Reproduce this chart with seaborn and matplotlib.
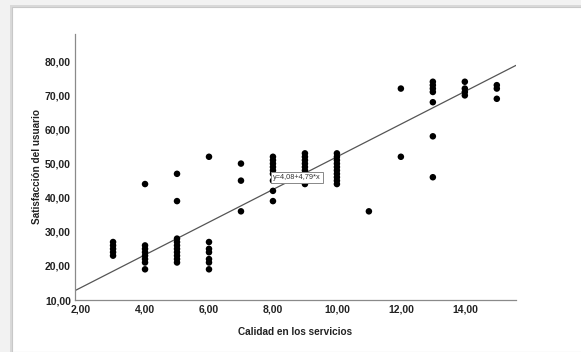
import numpy as np
import pandas as pd
import matplotlib
matplotlib.use("Agg")
import matplotlib.pyplot as plt
from matplotlib.patches import Rectangle
import seaborn as sns

# Data
x_groups = [3, 4, 5, 6, 7, 8, 9, 10, 11, 12, 13, 14, 15]
y_x3 = [23, 24, 25, 26, 27]
y_x4 = [44, 26, 25, 24, 23, 22, 21, 19]
y_x5 = [47, 39, 28, 27, 26, 25, 24, 23, 22, 21]
y_x6 = [52, 27, 25, 24, 22, 21, 19]
y_x7 = [50, 45, 36]
y_x8 = [52, 51, 50, 49, 48, 47, 45, 42, 39]
y_x9 = [53, 52, 51, 50, 49, 48, 47, 46, 45, 44]
y_x10 = [53, 52, 51, 50, 49, 48, 47, 46, 45, 44]
y_x11 = [36]
y_x12 = [72, 52]
y_x13 = [74, 73, 72, 71, 68, 58, 46]
y_x14 = [74, 72, 71, 70]
y_x15 = [73, 72, 69]
y_groups = [y_x3, y_x4, y_x5, y_x6, y_x7, y_x8, y_x9, y_x10, y_x11, y_x12,
            y_x13, y_x14, y_x15]

intercept = 4.08
slope = 4.79
x_ticks = [2, 4, 6, 8, 10, 12, 14]
y_ticks = [10, 20, 30, 40, 50, 60, 70, 80]
x_label = "Calidad en los servicios"
y_label = "Satisfacción del usuario"
eq_label = "y=4,08+4,79*x"

xs, ys = [], []
for xv, yl in zip(x_groups, y_groups):
    xs += [xv] * len(yl)
    ys += yl
df = pd.DataFrame({"x": xs, "y": ys})

sns.set_style("white")
plt.rcParams["font.family"] = ["Liberation Sans", "DejaVu Sans"]

W, H = 581, 352
fig = plt.figure(figsize=(W / 100, H / 100), dpi=100)
fig.patch.set_facecolor("#f2f2f2")
# panel with subtle shadow
fig.patches.append(Rectangle((10 / W, 0), 1, (H - 5) / H, transform=fig.transFigure,
                             facecolor="#d9d9d9", edgecolor="none", zorder=-2))
fig.patches.append(Rectangle((12 / W, 0), 1, (H - 7) / H, transform=fig.transFigure,
                             facecolor="white", edgecolor="#c8c8c8", linewidth=0.8, zorder=-1))

ax = fig.add_axes([75 / W, (H - 300) / H, (516 - 75) / W, (300 - 34) / H])
ax.set_zorder(1)
ax.set_facecolor("none")

xmin, xmax = 1.81, 15.6
ymin, ymax = 10.0, 88.0

sns.scatterplot(data=df, x="x", y="y", ax=ax, color="black", s=22,
                edgecolor="none", linewidth=0, zorder=3)

xl = np.array([xmin, xmax])
ax.plot(xl, intercept + slope * xl, color="#555555", linewidth=0.9, zorder=2)

ax.set_xlim(xmin, xmax)
ax.set_ylim(ymin, ymax)
ax.set_xticks(x_ticks)
ax.set_yticks(y_ticks)
ax.set_xticklabels([f"{v:.2f}".replace(".", ",") for v in x_ticks],
                   fontsize=7.5, fontweight="bold", color="#222222")
ax.set_yticklabels([f"{v:.2f}".replace(".", ",") for v in y_ticks],
                   fontsize=7.5, fontweight="bold", color="#222222")
ax.tick_params(axis="both", length=0, pad=3)

ax.set_xlabel(x_label, fontsize=7.2, fontweight="bold", color="#222222", labelpad=9)
ax.set_ylabel(y_label, fontsize=7.2, fontweight="bold", color="#222222", labelpad=2)

for side in ["top", "right"]:
    ax.spines[side].set_visible(False)
for side in ["left", "bottom"]:
    ax.spines[side].set_color("#8a8a8a")
    ax.spines[side].set_linewidth(0.9)

ax.text(8.75, 46.0, eq_label, fontsize=5.3, ha="center", va="center", color="#333333",
        bbox=dict(boxstyle="square,pad=0.28", facecolor="white", edgecolor="#888888",
                  linewidth=0.7), zorder=5)

fig.savefig("out.png", dpi=100, facecolor=fig.get_facecolor())
